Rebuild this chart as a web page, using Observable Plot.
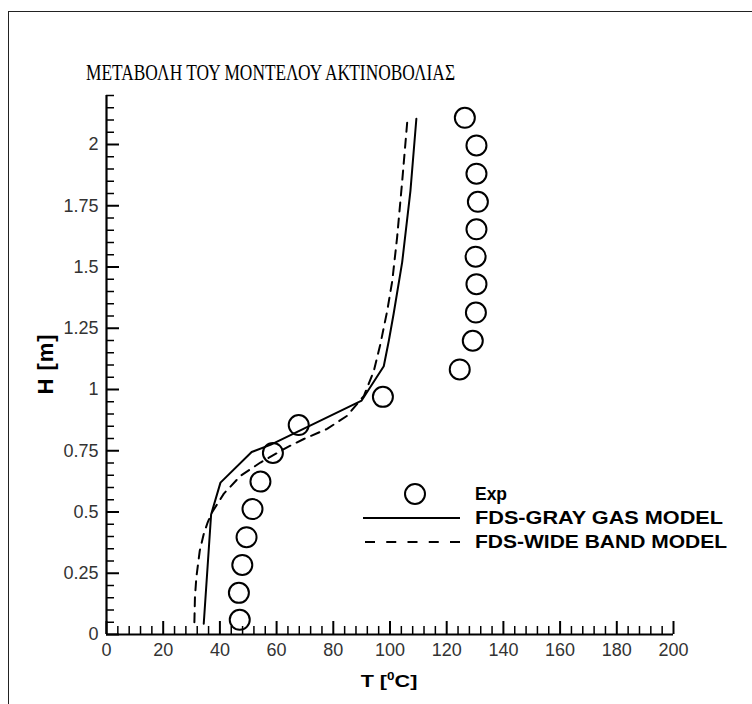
<!DOCTYPE html>
<html><head><meta charset="utf-8">
<script src="https://cdn.jsdelivr.net/npm/d3@7"></script>
<script src="https://cdn.jsdelivr.net/npm/@observablehq/plot@0.6"></script>
<style>
body{margin:0;background:#fff}
#chart{position:relative;width:752px;height:704px;overflow:hidden}
#frame{position:absolute;left:8px;top:11px;width:800px;height:800px;border-left:1.6px solid #222;border-top:1.6px solid #222;pointer-events:none}
</style>
</head><body><div id="chart"><div id="frame"></div></div>
<script>
// ---- data ----
const titleText = "ΜΕΤΑΒΟΛΗ ΤΟΥ ΜΟΝΤΕΛΟΥ ΑΚΤΙΝΟΒΟΛΙΑΣ";
const seriesNames = ["Exp", "FDS-GRAY GAS MODEL", "FDS-WIDE BAND MODEL"];

const expT = [47.0, 46.7, 47.9, 49.4, 51.5, 54.3, 58.7, 67.8, 97.5, 124.6, 129.2, 130.3, 130.5, 130.2, 130.5, 131.0, 130.5, 130.5, 126.4];
const expH = [0.06, 0.17, 0.284, 0.397, 0.512, 0.624, 0.741, 0.855, 0.970, 1.082, 1.199, 1.314, 1.43, 1.542, 1.654, 1.766, 1.881, 1.996, 2.109];

const grayT = [34.3, 36.9, 40.2, 51.2, 58.0, 90.0, 97.8, 99.6, 101.3, 104.3, 107.2, 109.3];
const grayH = [0.044, 0.49, 0.62, 0.745, 0.775, 0.955, 1.095, 1.2, 1.31, 1.52, 1.81, 2.105];

const wideT = [31.0, 31.2, 31.7, 32.9, 34.3, 35.7, 37.3, 41.4, 47.3, 54.3, 63.7, 69.6, 77.8, 84.9, 90.8, 94.3, 96.6, 99.0, 100.8, 102.5, 104.3, 106.1];
const wideH = [0.05, 0.152, 0.234, 0.342, 0.41, 0.458, 0.5, 0.575, 0.648, 0.702, 0.764, 0.798, 0.839, 0.893, 0.974, 1.076, 1.185, 1.32, 1.443, 1.62, 1.85, 2.095];

const xTicks = [0, 20, 40, 60, 80, 100, 120, 140, 160, 180, 200];
const xTickLabels = ["0", "20", "40", "60", "80", "100", "120", "140", "160", "180", "200"];
const yTicks = [0, 0.25, 0.5, 0.75, 1, 1.25, 1.5, 1.75, 2];
const yTickLabels = ["0", "0.25", "0.5", "0.75", "1", "1.25", "1.5", "1.75", "2"];
const xDomain = [0, 200];
const yDomain = [0, 2.2];

// ---- build ----
const exp = expT.map((t, i) => ({T: t, H: expH[i]}));
const gray = grayT.map((t, i) => ({T: t, H: grayH[i]}));
const wide = wideT.map((t, i) => ({T: t, H: wideH[i]}));
const xMinor = d3.range(0, 201, 4).filter(v => v % 20 !== 0);
const yMinor = d3.range(0, 45).map(i => +(i * 0.05).toFixed(2)).filter(v => Math.abs(v / 0.25 - Math.round(v / 0.25)) > 1e-6);

const W = 752, Hh = 704, mL = 106, mR = 79, mT = 95, mB = 70;
const fw = W - mL - mR, fh = Hh - mT - mB;
const font = "'Liberation Sans', Arial, sans-serif";

const svg = Plot.plot({
  width: W, height: Hh,
  marginLeft: mL, marginRight: mR, marginTop: mT, marginBottom: mB,
  style: {fontFamily: font, background: "transparent", overflow: "visible", position: "absolute", left: "0px", top: "0px"},
  x: {domain: xDomain},
  y: {domain: yDomain},
  marks: [
    Plot.tickX(xMinor, {x: d => d, insetTop: fh - 8, stroke: "#000", strokeWidth: 1.5}),
    Plot.tickX(xTicks, {x: d => d, insetTop: fh - 13, stroke: "#000", strokeWidth: 2}),
    Plot.tickY(yMinor, {y: d => d, insetRight: fw - 8, stroke: "#000", strokeWidth: 1.5}),
    Plot.tickY(yTicks, {y: d => d, insetRight: fw - 13, stroke: "#000", strokeWidth: 2}),
    Plot.axisX({ticks: xTicks, tickSize: 0, tickPadding: 9, fontSize: 18, fill: "#333",
      tickFormat: d => xTickLabels[xTicks.indexOf(d)], label: null}),
    Plot.axisY({ticks: yTicks, tickSize: 0, tickPadding: 8, fontSize: 18, fill: "#333",
      tickFormat: d => yTickLabels[yTicks.indexOf(d)], label: null}),
    Plot.ruleY([yDomain[0]], {stroke: "#000", strokeWidth: 2.2}),
    Plot.ruleX([xDomain[0]], {stroke: "#000", strokeWidth: 2.2}),
    Plot.line(wide, {x: "T", y: "H", stroke: "#000", strokeWidth: 2, strokeDasharray: "9,7"}),
    Plot.line(gray, {x: "T", y: "H", stroke: "#000", strokeWidth: 2}),
    Plot.dot(exp, {x: "T", y: "H", r: 10, stroke: "#000", strokeWidth: 2, fill: "none"})
  ]
});

const s = d3.select(svg);
// title
s.append("text").attr("x", 86).attr("y", 80).attr("text-anchor", "start")
  .attr("font-family", "'Liberation Serif', 'Times New Roman', serif").attr("font-size", 23.5)
  .attr("textLength", 369).attr("lengthAdjust", "spacingAndGlyphs").attr("fill", "#000")
  .text(titleText);
// x axis title
const xt = s.append("text").attr("transform", "translate(389,687) scale(1.35,1)")
  .attr("text-anchor", "middle").attr("font-family", font).attr("font-weight", "bold")
  .attr("font-size", 16).attr("fill", "#000");
xt.append("tspan").text("T [");
xt.append("tspan").attr("font-size", 10).attr("dy", -7).text("0");
xt.append("tspan").attr("dy", 7).text("C]");
// y axis title
s.append("text").attr("transform", "translate(53,364) rotate(-90)")
  .attr("text-anchor", "middle").attr("font-family", font).attr("font-weight", "bold")
  .attr("font-size", 22).attr("letter-spacing", 1).attr("fill", "#000").text("H [m]");
// legend
const lg = s.append("g");
lg.append("circle").attr("cx", 415).attr("cy", 494).attr("r", 10).attr("fill", "none").attr("stroke", "#000").attr("stroke-width", 2);
lg.append("line").attr("x1", 363).attr("x2", 460).attr("y1", 518).attr("y2", 518).attr("stroke", "#000").attr("stroke-width", 2);
lg.append("line").attr("x1", 365).attr("x2", 460).attr("y1", 542).attr("y2", 542).attr("stroke", "#000").attr("stroke-width", 2).attr("stroke-dasharray", "10,11.25");
const lw = [32, 248, 252];
seriesNames.forEach((n, i) => {
  lg.append("text").attr("x", 475).attr("y", 494 + i * 24).attr("dy", "0.36em")
    .attr("text-anchor", "start")
    .attr("font-family", font).attr("font-weight", "bold").attr("font-size", 17.5).attr("fill", "#000")
    .attr("textLength", lw[i]).attr("lengthAdjust", "spacingAndGlyphs").text(n);
});

document.getElementById("chart").appendChild(svg);
</script>
</body></html>
